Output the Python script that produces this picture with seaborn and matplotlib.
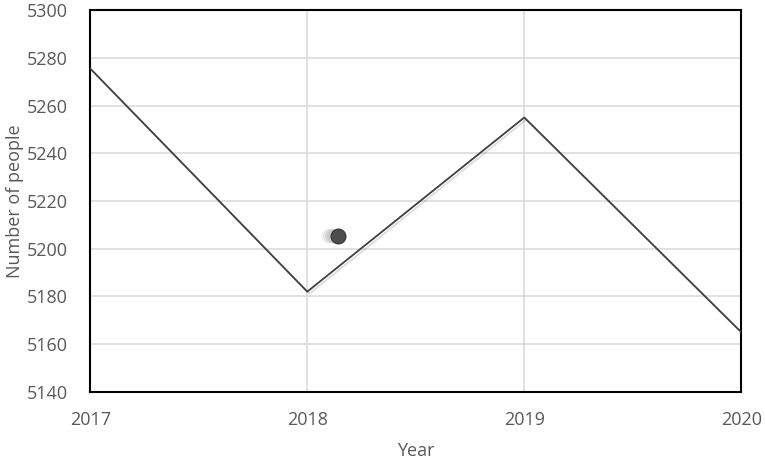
import matplotlib.pyplot as plt
import matplotlib.patheffects as pe
import seaborn as sns
import pandas as pd

# dados
anos = [2017, 2018, 2019, 2020]
pessoas = [5275.5, 5182, 5255, 5165]

# ponto solto perto de 2018
ponto_x = [2018.14]
ponto_y = [5205.3]

sns.set_theme(style="white")
plt.rcParams['font.family'] = ['Open Sans', 'DejaVu Sans']

cor_texto = "#595959"
df = pd.DataFrame({"Year": anos, "Number of people": pessoas})

fig, ax = plt.subplots(figsize=(7.65, 4.61), dpi=100)

sns.lineplot(data=df, x="Year", y="Number of people", ax=ax, color="#404040",
             linewidth=1.3, zorder=3,
             path_effects=[pe.SimpleLineShadow(offset=(1.5, -1.5), alpha=0.15, shadow_color="k"),
                           pe.Normal()])

# sombra borrada do ponto
for dx, a in [(-0.045, 0.08), (-0.035, 0.12), (-0.025, 0.15), (-0.015, 0.15)]:
    ax.scatter([ponto_x[0] + dx], ponto_y, s=110, color="#808080", alpha=a,
               edgecolor="none", zorder=4)
ax.scatter(ponto_x, ponto_y, s=110, color="#4d4d4d", edgecolor="#3a3a3a",
           zorder=5)

ax.set_xlim(2017, 2020)
ax.set_ylim(5140, 5300)
ax.set_xticks(anos)
ax.set_yticks(range(5140, 5301, 20))
ax.grid(True, color="#dcdcdc", linewidth=1.2)
ax.set_axisbelow(True)

for s in ax.spines.values():
    s.set_color("black")
    s.set_linewidth(1.5)

ax.tick_params(axis="x", colors=cor_texto, labelsize=13, length=0, pad=14)
ax.tick_params(axis="y", colors=cor_texto, labelsize=13, length=0, pad=16)
ax.set_xlabel("Year", color=cor_texto, fontsize=13, labelpad=9)
ax.set_ylabel("Number of people", color=cor_texto, fontsize=13, labelpad=2)

plt.subplots_adjust(left=0.118, right=0.969, top=0.978, bottom=0.15)
plt.savefig("out.png", dpi=100)
plt.close()
